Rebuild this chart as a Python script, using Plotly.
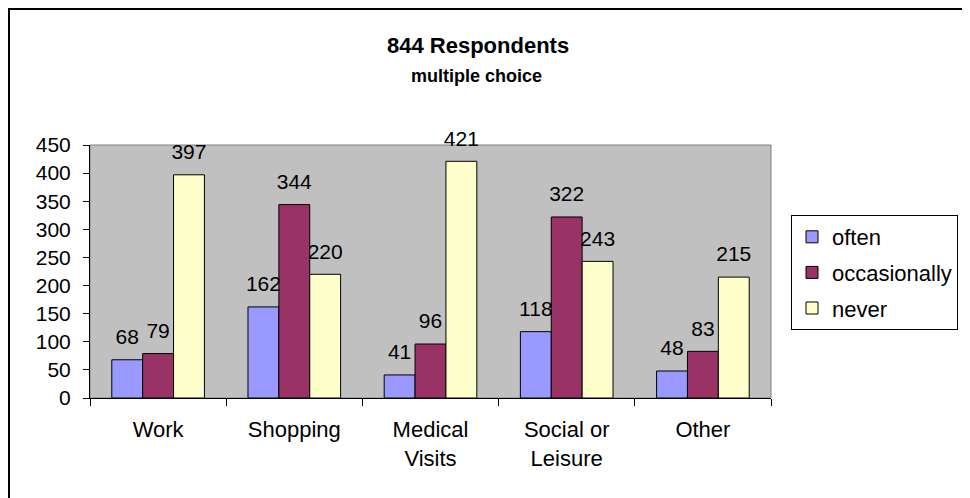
import plotly.graph_objects as go

categories = ["Work", "Shopping", "Medical<br>Visits", "Social or<br>Leisure", "Other"]
often = [68, 162, 41, 118, 48]
occasionally = [79, 344, 96, 322, 83]
never = [397, 220, 421, 243, 215]

series = [
    ("often", often, "#9999FF"),
    ("occasionally", occasionally, "#993366"),
    ("never", never, "#FFFFCC"),
]

W, H = 970, 498
OFF = 8  # page body margin; positions below are measured on the screenshot
ml, mt = 90 - OFF, 145 - OFF
mr, mb = W - (771 - OFF), H - (398 - OFF)
pw, ph = W - ml - mr, H - mt - mb
GAP = 0.32


def px_x(x):
    return (x - OFF - ml) / pw


def px_y(y):
    return (H - mb - (y - OFF)) / ph


font = "Arial, Liberation Sans, sans-serif"

fig = go.Figure()
for name, vals, color in series:
    fig.add_trace(
        go.Bar(
            x=categories,
            y=vals,
            name=name,
            legendgroup=name,
            offsetgroup=name,
            marker=dict(color=color, line=dict(color="black", width=1)),
        )
    )

# value labels, lifted a bit above the bars like the original
for name, vals, color in series:
    fig.add_trace(
        go.Scatter(
            x=categories,
            y=vals,
            offsetgroup=name,
            mode="markers+text",
            marker=dict(size=15, opacity=0),
            text=vals,
            textposition="top center",
            textfont=dict(family=font, size=21, color="black"),
            cliponaxis=False,
            showlegend=False,
            hoverinfo="skip",
        )
    )

fig.update_layout(
    width=W,
    height=H,
    margin=dict(l=ml, r=mr, t=mt, b=mb, autoexpand=False),
    barmode="group",
    bargap=GAP,
    bargroupgap=0,
    scattermode="group",
    scattergap=GAP,
    plot_bgcolor="#C0C0C0",
    paper_bgcolor="white",
    font=dict(family=font, color="black"),
    showlegend=True,
    legend=dict(
        x=px_x(791),
        y=px_y(215),
        xanchor="left",
        yanchor="top",
        bordercolor="black",
        borderwidth=1,
        bgcolor="white",
        font=dict(size=22),
        tracegroupgap=4,
        itemwidth=30,
    ),
)

fig.update_xaxes(
    showgrid=False,
    showline=True,
    linecolor="black",
    linewidth=1,
    ticks="outside",
    tickson="boundaries",
    ticklen=7,
    tickcolor="black",
    tickfont=dict(size=22),
    ticklabelstandoff=12,
)
fig.update_yaxes(
    range=[0, 450],
    dtick=50,
    showgrid=False,
    showline=True,
    linecolor="black",
    linewidth=1,
    ticks="outside",
    ticklen=6,
    tickcolor="black",
    tickfont=dict(size=21),
    ticklabelstandoff=8,
    zeroline=False,
)

# plot area frame (gray) and outer chart border
fig.add_shape(type="rect", xref="paper", yref="paper", x0=0, x1=1, y0=0, y1=1,
              line=dict(color="#808080", width=1), layer="below")
fig.add_shape(type="rect", xref="paper", yref="paper",
              x0=px_x(9), x1=px_x(1000), y0=px_y(9), y1=px_y(530),
              line=dict(color="black", width=2))

fig.add_annotation(text="<b>844 Respondents</b>", xref="paper", yref="paper",
                   x=px_x(478), y=px_y(45), yanchor="middle", showarrow=False,
                   font=dict(size=22, family=font))
fig.add_annotation(text="<b>multiple choice</b>", xref="paper", yref="paper",
                   x=px_x(476), y=px_y(76), yanchor="middle", showarrow=False,
                   font=dict(size=18, family=font))

fig.write_html("out.html")
